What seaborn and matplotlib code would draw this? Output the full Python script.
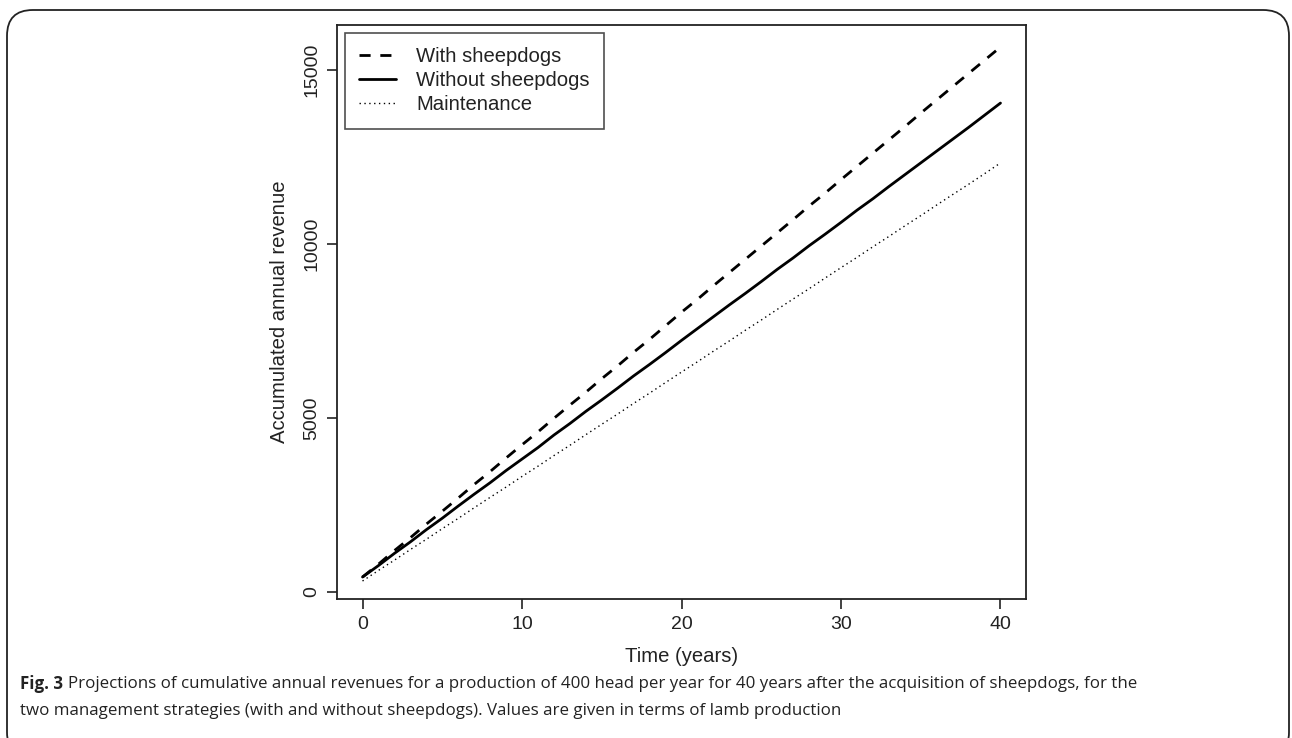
import numpy as np
import pandas as pd
import matplotlib
matplotlib.use('Agg')
import matplotlib.pyplot as plt
import seaborn as sns
from matplotlib.patches import FancyBboxPatch

years = list(range(0, 41))

with_dogs = [430, 800, 1190, 1560, 1950, 2320, 2700, 3090, 3460, 3850,
             4230, 4600, 4990, 5370, 5740, 6130, 6500, 6890, 7260, 7650,
             8040, 8410, 8800, 9180, 9560, 9940, 10320, 10700, 11090, 11460,
             11850, 12230, 12610, 12990, 13370, 13760, 14140, 14520, 14900, 15280,
             15660]

without_dogs = [430, 760, 1110, 1440, 1790, 2120, 2470, 2810, 3140, 3490,
                3820, 4150, 4510, 4840, 5190, 5520, 5860, 6210, 6540, 6880,
                7230, 7570, 7910, 8250, 8580, 8920, 9270, 9600, 9950, 10280,
                10620, 10970, 11300, 11650, 11990, 12330, 12670, 13010, 13350, 13700,
                14050]

maintenance = [316, 620, 915, 1220, 1515, 1820, 2115, 2420, 2720, 3015,
               3320, 3615, 3920, 4215, 4520, 4820, 5115, 5420, 5715, 6020,
               6320, 6615, 6920, 7215, 7520, 7815, 8120, 8420, 8715, 9020,
               9320, 9615, 9920, 10215, 10520, 10815, 11120, 11420, 11715, 12020,
               12330]

labels = ['With sheepdogs', 'Without sheepdogs', 'Maintenance']
x_ticks = [0, 10, 20, 30, 40]
y_ticks = [0, 5000, 10000, 15000]

df = pd.DataFrame({
    'year': years * 3,
    'revenue': with_dogs + without_dogs + maintenance,
    'series': [labels[0]] * 41 + [labels[1]] * 41 + [labels[2]] * 41,
})

sns.set_theme(style='white')
plt.rcParams['font.family'] = ['Liberation Sans', 'DejaVu Sans']

fig = plt.figure(figsize=(12.92, 7.38), dpi=100)

# rounded outer frame
frame = FancyBboxPatch((7 / 1292, -20 / 738), 1282 / 1292, 748 / 738,
                       boxstyle='round,pad=0,rounding_size=0.02',
                       transform=fig.transFigure, fill=False,
                       edgecolor='#222222', linewidth=1.3,
                       mutation_aspect=1292 / 738, clip_on=False)
fig.patches.append(frame)

ax = fig.add_axes([337 / 1292, 1 - 599 / 738, 689 / 1292, 574 / 738])

styles = {labels[0]: (0, (4, 3.5)), labels[1]: '-', labels[2]: (0, (1, 2.5))}
widths = {labels[0]: 2.0, labels[1]: 2.0, labels[2]: 1.0}
for name in labels:
    sub = df[df['series'] == name]
    sns.lineplot(data=sub, x='year', y='revenue', ax=ax, color='black',
                 linestyle=styles[name], linewidth=widths[name], label=name)

ax.set_xlim(-1.6, 41.6)
ax.set_ylim(-201, 16293)
ax.set_xticks(x_ticks)
ax.set_yticks(y_ticks)
ax.set_xticklabels([str(t) for t in x_ticks], fontsize=14)
ax.set_yticklabels([str(t) for t in y_ticks], fontsize=14, rotation=90, va='center')
ax.tick_params(axis='both', direction='out', length=7, width=1.2, color='#222222',
               bottom=True, left=True, pad=5, labelcolor='#222222')
for s in ax.spines.values():
    s.set_color('#222222')
    s.set_linewidth(1.3)
ax.set_xlabel('Time (years)', fontsize=14.6, color='#222222', labelpad=10)
ax.set_ylabel('Accumulated annual revenue', fontsize=14.6, color='#222222', labelpad=10)

leg = ax.legend(loc='upper left', fontsize=14.6, frameon=True, fancybox=False,
                edgecolor='#222222', handlelength=1.8, handletextpad=1.0,
                borderaxespad=0.4, labelspacing=0.25, borderpad=0.7)
leg.get_frame().set_linewidth(1.2)
for t in leg.get_texts():
    t.set_color('#222222')

# caption: bold label followed by the plain text
cap_y1 = 1 - 684 / 738
cap_y2 = 1 - 711 / 738
bold = fig.text(20 / 1292, cap_y1, 'Fig. 3', fontsize=12.2, family='Open Sans',
                weight='bold', va='center', ha='left', color='#222222')
fig.canvas.draw()
bb = bold.get_window_extent(renderer=fig.canvas.get_renderer())
fig.text((bb.x1 + 5) / 1292, cap_y1,
         'Projections of cumulative annual revenues for a production of 400 head per year '
         'for 40 years after the acquisition of sheepdogs, for the',
         fontsize=12.2, family='Open Sans', va='center', ha='left', color='#222222')
fig.text(20 / 1292, cap_y2,
         'two management strategies (with and without sheepdogs). Values are given in terms of lamb production',
         fontsize=12.2, family='Open Sans', va='center', ha='left', color='#222222')

fig.savefig('out.png', dpi=100)
